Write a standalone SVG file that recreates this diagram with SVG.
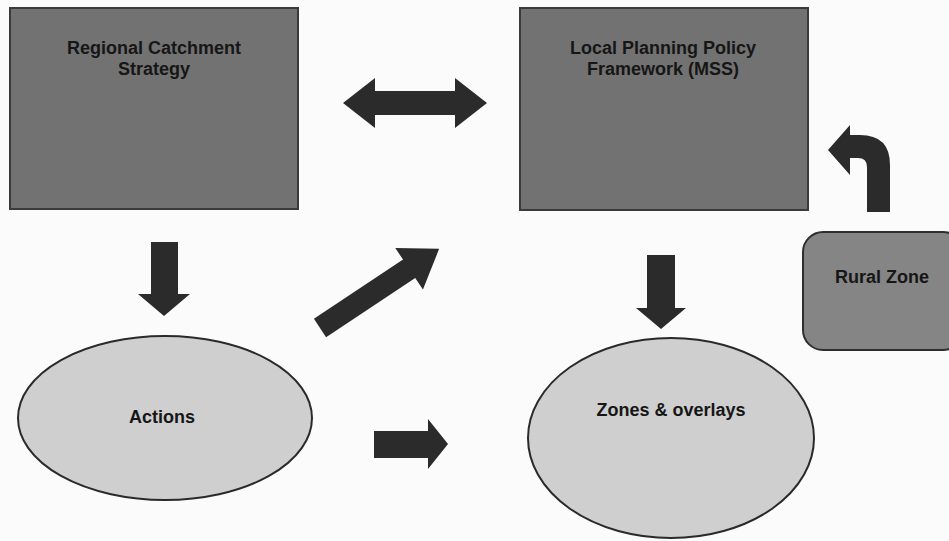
<svg xmlns="http://www.w3.org/2000/svg" width="949" height="541" viewBox="0 0 949 541">
  <style>
    .box { fill: #727272; stroke: #3a3a3a; stroke-width: 2; }
    .oval { fill: #cfcfcf; stroke: #2a2a2a; stroke-width: 2; }
    .rural { fill: #858585; stroke: #2e2e2e; stroke-width: 2; }
    .arrow { fill: #2b2b2b; }
    .lbl { font-family: "Liberation Sans", Arial, sans-serif; font-weight: bold; font-size: 18px; fill: #161616; text-anchor: middle; }
  </style>
  <rect width="949" height="541" fill="#fbfbfb"/>

  <g id="regional-catchment-strategy">
    <rect class="box" x="10" y="8" width="288" height="201"/>
    <text class="lbl" x="154" y="54">Regional Catchment</text>
    <text class="lbl" x="154" y="75">Strategy</text>
  </g>

  <g id="local-planning-policy">
    <rect class="box" x="520" y="8" width="288" height="202"/>
    <text class="lbl" x="663" y="54">Local Planning Policy</text>
    <text class="lbl" x="663" y="75">Framework (MSS)</text>
  </g>

  <g id="actions">
    <ellipse class="oval" cx="165" cy="418" rx="147" ry="82"/>
    <text class="lbl" x="162" y="423">Actions</text>
  </g>

  <g id="zones-overlays">
    <ellipse class="oval" cx="671" cy="438" rx="143" ry="100"/>
    <text class="lbl" x="671" y="416">Zones &amp; overlays</text>
  </g>

  <g id="rural-zone">
    <rect class="rural" x="803" y="232" width="160" height="118" rx="20" ry="20"/>
    <text class="lbl" x="882" y="283">Rural Zone</text>
  </g>

  <g id="connectors">
    <polygon class="arrow" points="343,103 375,78 375,91 455,91 455,78 487,103 455,128 455,115 375,115 375,128"/>
    <polygon class="arrow" points="151,242 178,242 178,294 190,294 164,316 138,294 151,294"/>
    <polygon class="arrow" points="647,255 675,255 675,308 686,308 661,329 636,308 647,308"/>
    <polygon class="arrow" transform="translate(320,328) rotate(-33.6)" points="0,-11 107,-11 107,-25 143,0 107,25 107,11 0,11"/>
    <polygon class="arrow" points="374,431 428,431 428,419 448,444 428,469 428,458 374,458"/>
    <path class="arrow" d="M 890,212 L 890,165 Q 890,135 860,135 L 850,135 L 850,125 L 828,150 L 850,175 L 850,158 L 858,158 Q 867,158 867,167 L 867,212 Z"/>
  </g>
</svg>
